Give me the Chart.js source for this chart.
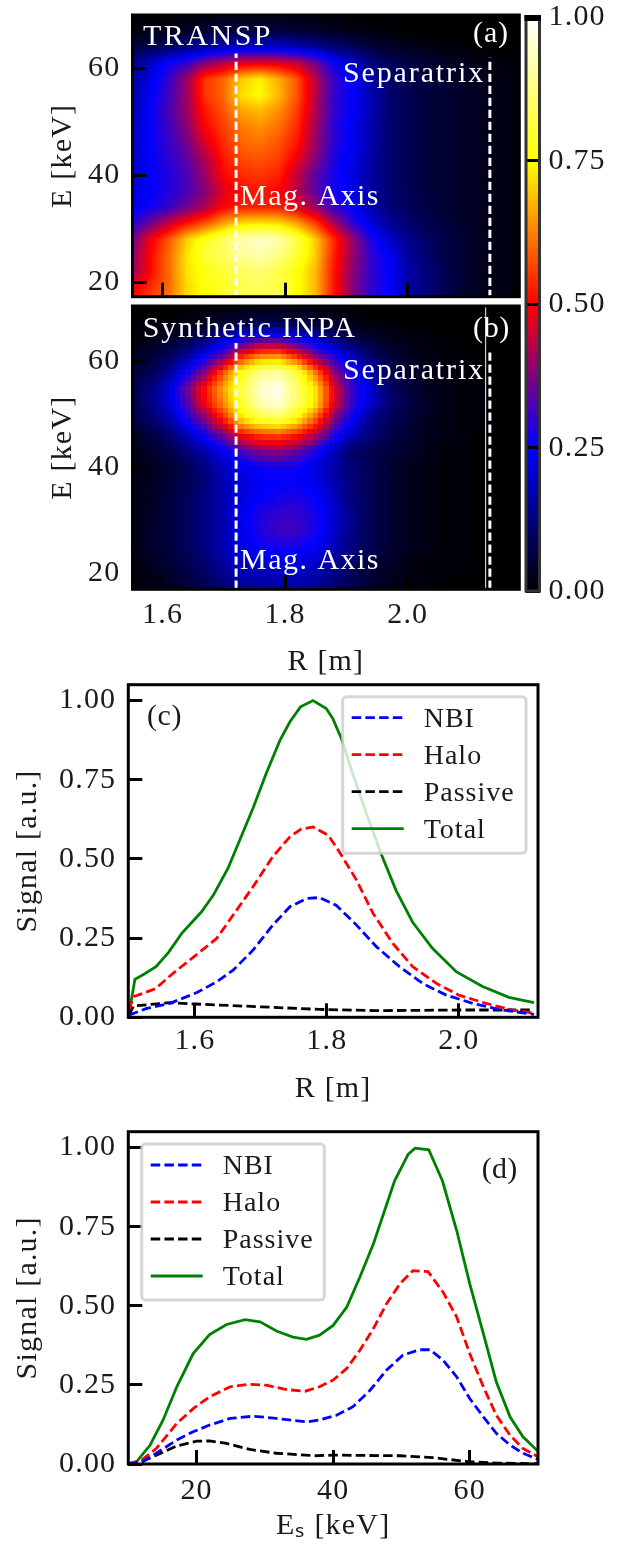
<!DOCTYPE html>
<html>
<head>
<meta charset="utf-8">
<title>INPA signal</title>
<script src="https://cdn.jsdelivr.net/npm/chart.js@4"></script>
<style>
    html, body { margin: 0; padding: 0; background: #fff; }
    #page { position: relative; width: 624px; height: 1544px; overflow: hidden; }
    canvas { position: absolute; left: 0; }
</style>
</head>
<body>
<div id="page">
    <canvas id="panelA" width="624" height="300" style="top:0"></canvas>
    <canvas id="panelB" width="624" height="380" style="top:300px"></canvas>
    <canvas id="colorbar" width="624" height="620" style="top:0"></canvas>
    <canvas id="panelC" width="624" height="430" style="top:680px"></canvas>
    <canvas id="panelD" width="624" height="429" style="top:1115px"></canvas>
</div>
<script>
// axis ticks
const mapRTicks = [1.6, 1.8, 2.0];
const mapETicks = [20, 40, 60];
const colorbarTicks = [0, 0.25, 0.5, 0.75, 1];
const signalTicks = [0, 0.25, 0.5, 0.75, 1];
const cutRTicks = [1.6, 1.8, 2.0];
const cutETicks = [20, 40, 60];

// colormap
const cmapStops = [0, 0.25, 0.5, 0.75, 1];
const cmapColors = [[0, 0, 0], [0, 0, 255], [255, 0, 0], [255, 255, 0], [255, 255, 255]];

// heatmap grid positions, R [m] and E [keV]
const gridR = [1.55, 1.58, 1.61, 1.64, 1.67, 1.70, 1.73, 1.76, 1.79, 1.82, 1.85, 1.88, 1.91, 1.94, 1.97, 2.00, 2.03, 2.06, 2.09, 2.12, 2.15, 2.18];
const gridE = [70, 67, 64, 61, 58, 55, 52, 49, 46, 43, 40, 37, 34, 31, 28, 25, 22, 19, 16];

// panel (a), percent of max, one row per gridE
const transpMap = [
    [0, 0, 0, 1, 1, 2, 2, 2, 2, 2, 1, 1, 0, 0, 0, 0, 0, 0, 0, 0, 0, 0],
    [1, 2, 3, 4, 5, 6, 6, 6, 6, 5, 4, 3, 2, 1, 1, 0, 0, 0, 0, 0, 0, 0],
    [5, 8, 10, 13, 16, 18, 20, 20, 20, 18, 15, 12, 9, 6, 4, 3, 2, 1, 1, 0, 0, 0],
    [13, 19, 26, 30, 38, 43, 47, 48, 47, 44, 36, 26, 20, 13, 9, 7, 5, 4, 3, 2, 1, 1],
    [15, 22, 30, 40, 55, 60, 70, 74, 67, 58, 43, 30, 25, 16, 11, 8, 6, 5, 4, 3, 2, 1],
    [16, 24, 31, 40, 55, 60, 72, 75, 68, 58, 43, 30, 25, 18, 11, 8, 6, 5, 4, 3, 2, 1],
    [17, 25, 32, 40, 52, 58, 66, 68, 64, 56, 42, 30, 25, 18, 11, 8, 6, 5, 4, 3, 2, 1],
    [18, 25, 31, 38, 50, 56, 62, 64, 61, 54, 41, 29, 24, 17, 11, 8, 6, 5, 4, 3, 2, 1],
    [18, 25, 30, 36, 46, 54, 60, 61, 58, 52, 40, 29, 24, 17, 11, 8, 6, 5, 4, 3, 2, 1],
    [19, 25, 29, 34, 42, 52, 57, 58, 56, 48, 38, 28, 23, 16, 11, 8, 6, 5, 4, 3, 2, 1],
    [20, 25, 28, 32, 40, 50, 54, 55, 53, 44, 34, 27, 22, 16, 11, 8, 6, 5, 4, 3, 2, 1],
    [21, 25, 28, 32, 38, 47, 51, 52, 50, 43, 34, 27, 23, 16, 11, 9, 6, 5, 4, 3, 2, 1],
    [23, 26, 30, 36, 42, 50, 53, 53, 53, 48, 40, 30, 25, 17, 12, 9, 7, 5, 4, 3, 2, 1],
    [28, 36, 44, 52, 58, 66, 72, 73, 72, 66, 56, 42, 30, 22, 15, 11, 8, 6, 4, 3, 2, 1],
    [36, 48, 58, 70, 78, 84, 92, 95, 92, 82, 70, 54, 40, 28, 20, 14, 10, 7, 5, 3, 2, 1],
    [38, 50, 60, 72, 80, 84, 90, 92, 88, 80, 70, 53, 40, 30, 24, 16, 11, 7, 5, 3, 2, 1],
    [40, 50, 60, 72, 77, 80, 84, 86, 82, 76, 68, 52, 39, 30, 25, 17, 12, 8, 5, 3, 2, 1],
    [48, 54, 60, 71, 76, 79, 83, 84, 82, 76, 68, 52, 38, 30, 25, 17, 12, 8, 5, 3, 2, 1],
    [52, 56, 62, 72, 76, 79, 83, 85, 82, 76, 68, 52, 38, 30, 25, 17, 12, 8, 5, 3, 2, 1]
];

// panel (b), same grid
const syntheticMap = [
    [0, 0, 0, 0, 1, 1, 2, 2, 2, 2, 1, 1, 1, 0, 0, 0, 0, 0, 0, 0, 0, 0],
    [0, 1, 1, 2, 3, 5, 6, 8, 8, 7, 5, 4, 2, 1, 1, 0, 0, 0, 0, 0, 0, 0],
    [1, 2, 4, 7, 12, 20, 27, 33, 33, 27, 20, 13, 8, 5, 3, 2, 1, 1, 0, 0, 0, 0],
    [3, 5, 9, 15, 25, 35, 52, 62, 63, 52, 37, 27, 18, 10, 6, 3, 2, 1, 1, 0, 0, 0],
    [5, 8, 14, 25, 38, 58, 77, 88, 90, 80, 60, 38, 26, 16, 9, 5, 3, 2, 1, 0, 0, 0],
    [7, 12, 20, 36, 52, 67, 82, 95, 98, 85, 72, 47, 30, 20, 10, 6, 3, 2, 1, 1, 0, 0],
    [7, 13, 20, 33, 50, 64, 80, 93, 96, 85, 72, 47, 30, 20, 11, 7, 4, 2, 1, 1, 0, 0],
    [6, 10, 16, 27, 38, 53, 72, 80, 83, 74, 58, 37, 25, 13, 9, 6, 3, 2, 1, 1, 0, 0],
    [3, 6, 10, 18, 27, 37, 50, 56, 57, 52, 42, 28, 18, 12, 7, 5, 3, 2, 1, 0, 0, 0],
    [2, 4, 7, 12, 17, 24, 32, 38, 39, 35, 27, 18, 10, 8, 6, 4, 2, 1, 1, 0, 0, 0],
    [2, 3, 5, 8, 13, 19, 23, 26, 27, 26, 22, 16, 11, 8, 5, 3, 2, 1, 1, 0, 0, 0],
    [2, 3, 5, 8, 12, 18, 21, 24, 25, 25, 23, 17, 12, 8, 5, 3, 2, 1, 1, 0, 0, 0],
    [2, 3, 6, 9, 13, 18, 22, 25, 27, 28, 25, 19, 12, 8, 5, 3, 2, 1, 1, 0, 0, 0],
    [2, 4, 6, 9, 13, 18, 23, 28, 30, 30, 27, 20, 13, 8, 5, 3, 2, 1, 1, 0, 0, 0],
    [2, 4, 6, 9, 13, 18, 23, 28, 31, 31, 27, 20, 13, 8, 5, 3, 2, 1, 1, 0, 0, 0],
    [2, 4, 6, 9, 13, 18, 22, 26, 27, 27, 24, 18, 12, 8, 5, 3, 2, 1, 1, 0, 0, 0],
    [1, 3, 5, 8, 11, 16, 19, 21, 22, 22, 20, 15, 10, 6, 4, 2, 1, 1, 1, 0, 0, 0],
    [1, 2, 4, 6, 9, 13, 16, 17, 18, 18, 16, 12, 8, 5, 3, 2, 1, 1, 0, 0, 0, 0],
    [1, 2, 3, 5, 8, 11, 13, 14, 15, 15, 13, 10, 7, 4, 2, 1, 1, 0, 0, 0, 0, 0]
];

// marker lines on the maps
const magAxisR = [1.72, 1.72];
const magAxisETop = [17, 62.8];
const magAxisEBot = [17, 63.4];
const separatrixR = [2.134, 2.134];
const separatrixETop = [17, 62];
const separatrixEBot = [17, 61.7];
const thinLineR = [2.127, 2.127];
const thinLineE = [16, 71];

// panel (c), signal against R
const nbiCR = [1.5, 1.527, 1.562, 1.603, 1.633, 1.658, 1.688, 1.718, 1.744, 1.769, 1.789, 1.814, 1.845, 1.875, 1.91, 1.945, 1.981, 2.021, 2.061, 2.114];
const nbiC = [0.007, 0.028, 0.044, 0.078, 0.112, 0.149, 0.212, 0.291, 0.349, 0.375, 0.378, 0.354, 0.291, 0.223, 0.16, 0.107, 0.07, 0.044, 0.025, 0.009];
const haloCR = [1.5, 1.507, 1.54, 1.567, 1.608, 1.633, 1.658, 1.688, 1.718, 1.744, 1.761, 1.779, 1.802, 1.819, 1.845, 1.87, 1.9, 1.93, 1.966, 2.0, 2.041, 2.081, 2.114];
const haloC = [0.023, 0.065, 0.09, 0.139, 0.207, 0.249, 0.323, 0.412, 0.507, 0.57, 0.594, 0.601, 0.575, 0.522, 0.433, 0.328, 0.233, 0.16, 0.107, 0.07, 0.044, 0.023, 0.013];
const passiveCR = [1.5, 1.507, 1.562, 1.6, 1.7, 1.789, 1.875, 2.0, 2.114];
const passiveC = [0.007, 0.036, 0.046, 0.042, 0.033, 0.025, 0.021, 0.023, 0.023];
const totalCR = [1.5, 1.509, 1.522, 1.541, 1.56, 1.58, 1.61, 1.628, 1.65, 1.668, 1.688, 1.708, 1.729, 1.744, 1.76, 1.779, 1.799, 1.809, 1.822, 1.839, 1.86, 1.882, 1.905, 1.93, 1.96, 1.996, 2.036, 2.076, 2.114];
const totalC = [0.01, 0.12, 0.135, 0.16, 0.205, 0.265, 0.333, 0.386, 0.47, 0.56, 0.66, 0.77, 0.875, 0.933, 0.98, 1.0, 0.975, 0.943, 0.88, 0.77, 0.643, 0.517, 0.40, 0.30, 0.218, 0.144, 0.097, 0.063, 0.046];

// panel (d), signal against Es
const nbiDE = [10, 12, 14.1, 17.1, 19.5, 21.9, 24.9, 28.3, 31.7, 36.1, 38, 40.5, 42.9, 45.4, 47.8, 50.2, 52.7, 54.2, 56.1, 58.1, 60, 62, 63.9, 65.9, 67.8, 70];
const nbiD = [0, 0.007, 0.034, 0.076, 0.102, 0.123, 0.144, 0.151, 0.144, 0.133, 0.139, 0.154, 0.181, 0.233, 0.296, 0.344, 0.361, 0.361, 0.328, 0.275, 0.207, 0.149, 0.097, 0.06, 0.034, 0.014];
const haloDE = [10, 12, 14.1, 17.1, 19.5, 21.9, 24.9, 27.8, 30.2, 33.2, 35.9, 38, 40, 42, 43.9, 45.9, 47.8, 49.8, 51.7, 53.9, 56.1, 58.1, 60, 62, 63.9, 65.9, 67.8, 70];
const haloD = [0, 0.013, 0.049, 0.128, 0.175, 0.212, 0.244, 0.252, 0.249, 0.235, 0.23, 0.244, 0.265, 0.302, 0.359, 0.428, 0.506, 0.57, 0.611, 0.608, 0.543, 0.464, 0.349, 0.244, 0.154, 0.091, 0.049, 0.023];
const passiveDE = [10, 12, 14.1, 17.1, 20, 21.9, 24.4, 27.8, 31.7, 37.5, 40, 49.8, 54.6, 60, 64, 70];
const passiveD = [0, 0.007, 0.028, 0.057, 0.072, 0.073, 0.065, 0.046, 0.034, 0.026, 0.028, 0.026, 0.02, 0.007, 0.003, 0.001];
const totalDE = [10, 11.2, 13.2, 15.1, 17.1, 19.5, 21.9, 24.4, 27.1, 29.3, 31.7, 34.1, 36.1, 38, 40, 42, 43.9, 45.9, 49, 51, 52, 54, 56, 58.1, 60, 62, 63.9, 65.9, 67.8, 70];
const totalD = [0.002, 0.007, 0.06, 0.139, 0.244, 0.349, 0.409, 0.441, 0.456, 0.449, 0.42, 0.401, 0.394, 0.407, 0.438, 0.496, 0.59, 0.696, 0.895, 0.979, 0.998, 0.993, 0.895, 0.737, 0.57, 0.412, 0.259, 0.149, 0.086, 0.04];

const seriesNames = ['NBI', 'Halo', 'Passive', 'Total'];
const seriesColors = ['#0000ff', '#ff0000', '#000000', '#008000'];

const FONT_FAMILY = '"Liberation Serif", serif';
const DASH = [9.5, 4.2];
const WHITE_DASH = [8.3, 3.7];
const LINE_WIDTH = 2.8;

function toXY(xs, ys) {
    return xs.map((x, i) => ({ x: x, y: ys[i] }));
}

function cmap(v) {
    const t = Math.min(1, Math.max(0, v));
    let k = 0;
    while (k < cmapStops.length - 2 && t > cmapStops[k + 1]) k++;
    const f = (t - cmapStops[k]) / (cmapStops[k + 1] - cmapStops[k]);
    return cmapColors[k].map((c, i) => c + (cmapColors[k + 1][i] - c) * f);
}

// value at (r, e), bilinear like imshow would do it
function sampleMap(map, r, e) {
    const dr = gridR[1] - gridR[0];
    const de = gridE[0] - gridE[1];
    const fi = Math.min(gridR.length - 1.001, Math.max(0, (r - gridR[0]) / dr));
    const fj = Math.min(gridE.length - 1.001, Math.max(0, (gridE[0] - e) / de));
    const i = Math.floor(fi), j = Math.floor(fj);
    const a = fi - i, b = fj - j;
    return ((map[j][i] * (1 - a) + map[j][i + 1] * a) * (1 - b) +
            (map[j + 1][i] * (1 - a) + map[j + 1][i + 1] * a) * b) / 100;
}

// paints the map through the chart scales, cols/rows set the block size
function drawMap(chart, map, cols, rows) {
    const { ctx, chartArea: area, scales } = chart;
    const w = cols || Math.ceil(area.width);
    const h = rows || Math.ceil(area.height);
    const off = document.createElement('canvas');
    off.width = w;
    off.height = h;
    const octx = off.getContext('2d');
    const img = octx.createImageData(w, h);
    for (let py = 0; py < h; py++) {
        for (let px = 0; px < w; px++) {
            const r = scales.x.getValueForPixel(area.left + (px + 0.5) / w * area.width);
            const e = scales.y.getValueForPixel(area.top + (py + 0.5) / h * area.height);
            const c = cmap(sampleMap(map, r, e));
            const p = (py * w + px) * 4;
            img.data[p] = c[0];
            img.data[p + 1] = c[1];
            img.data[p + 2] = c[2];
            img.data[p + 3] = 255;
        }
    }
    octx.putImageData(img, 0, 0);
    ctx.save();
    ctx.imageSmoothingEnabled = false;
    ctx.drawImage(off, area.left, area.top, area.width, area.height);
    ctx.restore();
}

function drawFrame(chart, color) {
    const { ctx, chartArea: a } = chart;
    ctx.save();
    ctx.strokeStyle = color || '#000';
    ctx.lineWidth = 3;
    ctx.strokeRect(a.left, a.top, a.width, a.height);
    ctx.restore();
}

function drawLabels(chart, labels) {
    const ctx = chart.ctx;
    ctx.save();
    labels.forEach(l => {
        ctx.letterSpacing = '0px';
        ctx.font = `${l.size || 30}px ${FONT_FAMILY}`;
        const natural = ctx.measureText(l.text).width;
        ctx.letterSpacing = ((l.width - natural) / l.text.length) + 'px';
        ctx.fillStyle = l.color;
        ctx.textBaseline = 'alphabetic';
        ctx.textAlign = 'left';
        ctx.fillText(l.text, l.x, l.y);
    });
    ctx.restore();
}

function drawLegend(chart, box) {
    const ctx = chart.ctx;
    ctx.save();
    ctx.beginPath();
    ctx.roundRect(box.x, box.y, box.w, box.h, 4);
    ctx.fillStyle = 'rgba(255,255,255,0.8)';
    ctx.fill();
    ctx.strokeStyle = 'rgba(204,204,204,0.8)';
    ctx.lineWidth = 3;
    ctx.stroke();
    seriesNames.forEach((name, i) => {
        const y = box.y + 21 + i * 37;
        ctx.beginPath();
        ctx.setLineDash(i === 3 ? [] : DASH);
        ctx.strokeStyle = seriesColors[i];
        ctx.lineWidth = LINE_WIDTH;
        ctx.moveTo(box.x + 9, y);
        ctx.lineTo(box.x + 61, y);
        ctx.stroke();
        ctx.setLineDash([]);
        ctx.letterSpacing = '1px';
        ctx.fillStyle = '#1a1a1a';
        ctx.font = `28px ${FONT_FAMILY}`;
        ctx.textBaseline = 'alphabetic';
        ctx.fillText(name, box.x + 81, y + 9);
    });
    ctx.restore();
}

// fixes the plot box in canvas pixels and sets up the inward ticks
function linearAxis(opts) {
    return {
        type: 'linear',
        position: opts.position,
        display: opts.display === undefined ? true : opts.display,
        min: opts.min,
        max: opts.max,
        grid: {
            drawOnChartArea: false,
            drawTicks: true,
            tickLength: -14,
            tickWidth: 3,
            tickColor: '#000',
            z: 1
        },
        border: { display: false },
        title: opts.title ? {
            display: true,
            text: opts.title,
            color: '#1a1a1a',
            font: { family: FONT_FAMILY, size: 30 },
            padding: opts.titlePadding
        } : { display: false },
        ticks: {
            display: opts.showLabels !== false,
            color: '#1a1a1a',
            font: { family: FONT_FAMILY, size: 30 },
            padding: opts.labelPadding,
            autoSkip: false,
            maxRotation: 0,
            minRotation: 0,
            callback: v => v.toFixed(opts.digits)
        },
        afterBuildTicks: scale => {
            scale.ticks = opts.ticks.map(v => ({ value: v }));
        },
        afterFit: scale => {
            if (opts.position === 'left' || opts.position === 'right') scale.width = opts.size;
            else scale.height = opts.size;
            scale.paddingTop = scale.paddingBottom = scale.paddingLeft = scale.paddingRight = 0;
        }
    };
}

function makeChart(id, box, xAxis, yAxis, datasets, painter) {
    const canvas = document.getElementById(id);
    return new Chart(canvas.getContext('2d'), {
        type: 'line',
        data: { datasets: datasets },
        options: {
            responsive: false,
            animation: false,
            devicePixelRatio: 1,
            parsing: false,
            layout: { padding: { top: box.top, right: canvas.width - box.right, left: box.left || 0, bottom: box.bottom || 0 } },
            elements: { point: { radius: 0 }, line: { tension: 0 } },
            plugins: { legend: { display: false }, tooltip: { enabled: false } },
            scales: { x: xAxis, y: yAxis }
        },
        plugins: [{
            id: 'panelPainter',
            beforeDraw: chart => { chart.ctx.letterSpacing = '1.2px'; },
            beforeDatasetsDraw: chart => { if (painter.under) painter.under(chart); },
            afterDraw: chart => { if (painter.over) painter.over(chart); }
        }]
    });
}

function markerLine(rs, es, color, width, dash) {
    return {
        data: toXY(rs, es),
        borderColor: color,
        borderWidth: width,
        borderDash: dash,
        pointRadius: 0,
        fill: false
    };
}

function cutLine(i, xs, ys) {
    return {
        label: seriesNames[i],
        data: toXY(xs, ys),
        borderColor: seriesColors[i],
        borderWidth: LINE_WIDTH,
        borderDash: i === 3 ? [] : DASH,
        pointRadius: 0,
        fill: false
    };
}

// panel (a)
makeChart('panelA', { top: 15, right: 519.3 },
    linearAxis({ position: 'bottom', min: 1.551, max: 2.182, ticks: mapRTicks, digits: 1, size: 3.3, showLabels: false, labelPadding: 0 }),
    linearAxis({ position: 'left', min: 17.25, max: 70, ticks: mapETicks, digits: 0, size: 132.5, labelPadding: 26, title: 'E [keV]', titlePadding: { top: 45, bottom: 0 } }),
    [
        markerLine(magAxisR, magAxisETop, '#fff', 3, WHITE_DASH),
        markerLine(separatrixR, separatrixETop, '#fff', 3, WHITE_DASH)
    ],
    {
        under: chart => drawMap(chart, transpMap),
        over: chart => {
            drawFrame(chart);
            drawLabels(chart, [
                { text: 'TRANSP', x: 143, y: 45, width: 130, color: '#fff' },
                { text: '(a)', x: 473, y: 42, width: 36, color: '#fff' },
                { text: 'Separatrix', x: 343, y: 82, width: 142, color: '#fff' },
                { text: 'Mag. Axis', x: 240, y: 205, width: 140, color: '#fff' }
            ]);
        }
    });

// panel (b), coarse blocks like the synthetic diagnostic pixels
makeChart('panelB', { top: 6, right: 519.3 },
    linearAxis({ position: 'bottom', min: 1.551, max: 2.182, ticks: mapRTicks, digits: 1, size: 90.7, labelPadding: 22, title: 'R [m]', titlePadding: { top: 0, bottom: 0 } }),
    linearAxis({ position: 'left', min: 16.9, max: 70.4, ticks: mapETicks, digits: 0, size: 132.5, labelPadding: 26, title: 'E [keV]', titlePadding: { top: 45, bottom: 0 } }),
    [
        markerLine(thinLineR, thinLineE, '#cccccc', 1.2, []),
        markerLine(magAxisR, magAxisEBot, '#fff', 3, WHITE_DASH),
        markerLine(separatrixR, separatrixEBot, '#fff', 3, WHITE_DASH)
    ],
    {
        under: chart => drawMap(chart, syntheticMap, 73, 53),
        over: chart => {
            drawFrame(chart);
            drawLabels(chart, [
                { text: 'Synthetic INPA', x: 142.7, y: 37, width: 214, color: '#fff' },
                { text: '(b)', x: 473, y: 37, width: 37, color: '#fff' },
                { text: 'Separatrix', x: 343, y: 79, width: 142, color: '#fff' },
                { text: 'Mag. Axis', x: 240, y: 269, width: 140, color: '#fff' }
            ]);
        }
    });

// colorbar, shares the 0-1 scale of both maps
makeChart('colorbar', { top: 17.5, right: 624, left: 526, bottom: 29 },
    linearAxis({ position: 'bottom', display: false, min: 0, max: 1, ticks: [], digits: 0, size: 0, labelPadding: 0 }),
    linearAxis({ position: 'right', min: 0, max: 1, ticks: colorbarTicks, digits: 2, size: 84.5, labelPadding: 23 }),
    [],
    {
        under: chart => {
            const { ctx, chartArea: a, scales } = chart;
            const top = scales.y.getPixelForValue(1);
            const bottom = scales.y.getPixelForValue(0);
            const gradient = ctx.createLinearGradient(0, bottom, 0, top);
            cmapStops.forEach((s, i) => {
                gradient.addColorStop(s, `rgb(${cmapColors[i].join(',')})`);
            });
            ctx.fillStyle = gradient;
            ctx.fillRect(a.left, a.top, a.width, a.height);
        },
        over: chart => {
            const { ctx, chartArea: a } = chart;
            ctx.save();
            ctx.strokeStyle = '#333';
            ctx.lineWidth = 3;
            ctx.strokeRect(a.left, a.top - 1, a.width, a.height + 1);
            ctx.fillStyle = '#000';
            ctx.fillRect(a.left - 1.5, 15, a.width + 3, 6);
            ctx.restore();
        }
    });

// panel (c)
makeChart('panelC', { top: 4.7, right: 538 },
    linearAxis({ position: 'bottom', min: 1.499, max: 2.12, ticks: cutRTicks, digits: 1, size: 92.7, labelPadding: 20, title: 'R [m]', titlePadding: { top: 0, bottom: 3 } }),
    linearAxis({ position: 'left', min: 0, max: 1.05, ticks: signalTicks, digits: 2, size: 128.3, labelPadding: 26, title: 'Signal [a.u.]', titlePadding: { top: 10, bottom: 0 } }),
    [
        cutLine(0, nbiCR, nbiC),
        cutLine(1, haloCR, haloC),
        cutLine(2, passiveCR, passiveC),
        cutLine(3, totalCR, totalC)
    ],
    {
        over: chart => {
            drawFrame(chart);
            drawLabels(chart, [{ text: '(c)', x: 147, y: 45, width: 35, color: '#1a1a1a' }]);
            drawLegend(chart, { x: 342.7, y: 16.7, w: 183.3, h: 156.6 });
        }
    });

// panel (d)
makeChart('panelD', { top: 16.7, right: 538 },
    linearAxis({ position: 'bottom', min: 10, max: 70, ticks: cutETicks, digits: 0, size: 80, labelPadding: 23, title: 'Eₛ [keV]', titlePadding: { top: 0, bottom: 0 } }),
    linearAxis({ position: 'left', min: 0, max: 1.05, ticks: signalTicks, digits: 2, size: 128.3, labelPadding: 26, title: 'Signal [a.u.]', titlePadding: { top: 10, bottom: 0 } }),
    [
        cutLine(0, nbiDE, nbiD),
        cutLine(1, haloDE, haloD),
        cutLine(2, passiveDE, passiveD),
        cutLine(3, totalDE, totalD)
    ],
    {
        over: chart => {
            drawFrame(chart);
            drawLabels(chart, [{ text: '(d)', x: 481.7, y: 63, width: 36, color: '#1a1a1a' }]);
            drawLegend(chart, { x: 141.7, y: 29, w: 182.6, h: 156 });
        }
    });
</script>
</body>
</html>
